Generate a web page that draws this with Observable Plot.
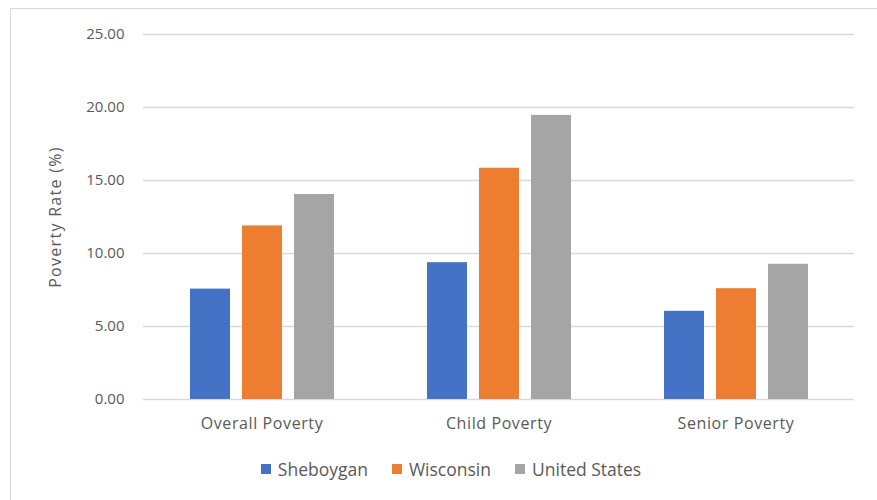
<!DOCTYPE html>
<html>
<head>
<meta charset="utf-8">
<script src="https://cdn.jsdelivr.net/npm/d3@7"></script>
<script src="https://cdn.jsdelivr.net/npm/@observablehq/plot@0.6"></script>
<style>
  html, body { margin: 0; padding: 0; background: #fff; width: 877px; height: 500px; overflow: hidden; }
  #frame { position: absolute; left: 10px; top: 8px; width: 900px; height: 520px; border: 1px solid #d9d9d9; }
  #chart { position: absolute; left: 0; top: 0; }
  #legend { position: absolute; left: 0; top: 457px; width: 902px; display: flex; justify-content: center; gap: 24px;
            font-family: "Open Sans", sans-serif; font-size: 17.5px; color: #595959; }
  #legend .item { display: flex; align-items: center; gap: 7px; }
  #legend .sw { width: 10px; height: 10px; display: inline-block; }
  #chart g[aria-label="fx-axis tick label"] text { letter-spacing: 0.6px; }
  #chart g[aria-label="y-axis label"] text { letter-spacing: 1.3px; }
</style>
</head>
<body>
<div id="frame"></div>
<div id="chart"></div>
<div id="legend"></div>
<script>
const categories = ["Overall Poverty", "Child Poverty", "Senior Poverty"];
const series = ["Sheboygan", "Wisconsin", "United States"];
const sheboygan = [7.56, 9.37, 6.04];
const wisconsin = [11.89, 15.84, 7.59];
const unitedStates = [14.04, 19.46, 9.26];
const yTicks = [0, 5, 10, 15, 20, 25];
const colors = ["#4472C4", "#ED7D31", "#A5A5A5"];

const valuesBySeries = [sheboygan, wisconsin, unitedStates];
const data = categories.flatMap((c, i) =>
  series.map((s, j) => ({category: c, series: s, value: valuesBySeries[j][i]}))
);

const font = "'Open Sans', sans-serif";

const chart = Plot.plot({
  width: 877,
  height: 445,
  marginLeft: 143,
  marginRight: 23,
  marginTop: 34,
  marginBottom: 46,
  style: {fontFamily: font, fontSize: "15px", color: "#595959", background: "transparent"},
  fx: {domain: categories, padding: 0, label: null, tickSize: 0, tickPadding: 18, axis: "bottom"},
  x: {domain: series, axis: null, paddingInner: 0.235, paddingOuter: 0.88},
  y: {domain: [0, 25], ticks: yTicks, tickFormat: d3.format(".2f"), tickSize: 0, tickPadding: 19,
      label: "Poverty Rate (%)", labelAnchor: "center", labelArrow: "none", labelOffset: 94},
  color: {domain: series, range: colors},
  marks: [
    Plot.ruleY(yTicks, {stroke: "#d9d9d9", strokeWidth: 1.3}),
    Plot.barY(data, {fx: "category", x: "series", y: "value", fill: "series"})
  ]
});
document.getElementById("chart").appendChild(chart);
chart.querySelectorAll('g[aria-label="fx-axis tick label"] text, g[aria-label="y-axis label"] text')
  .forEach(t => t.style.fontSize = "16px");

const legend = document.getElementById("legend");
series.forEach((s, i) => {
  const item = document.createElement("div");
  item.className = "item";
  const sw = document.createElement("span");
  sw.className = "sw";
  sw.style.background = colors[i];
  const t = document.createElement("span");
  t.textContent = s;
  item.appendChild(sw);
  item.appendChild(t);
  legend.appendChild(item);
});
</script>
</body>
</html>
